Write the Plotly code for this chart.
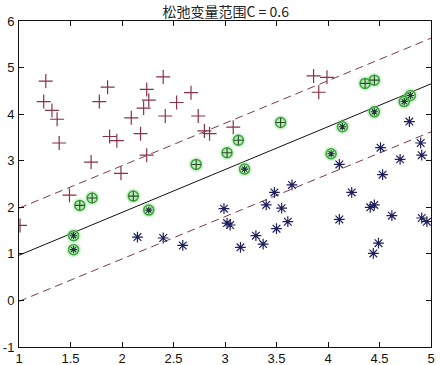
import plotly.graph_objects as go

title_text = "松弛变量范围C = 0.6"

# class +1 (red plus)
red_x = [1.01, 1.26, 1.24, 1.32, 1.37, 1.39, 1.49, 1.70, 1.78, 1.86, 1.88, 1.95, 1.99, 2.09,
         2.18, 2.21, 2.24, 2.26, 2.24, 2.40, 2.53, 2.42, 2.67, 2.74, 2.80, 2.85, 3.08, 3.86, 3.99, 3.91]
red_y = [1.61, 4.71, 4.27, 4.08, 3.89, 3.38, 2.26, 2.97, 4.27, 4.58, 3.52, 3.43, 2.73, 3.92,
         3.58, 4.13, 4.53, 4.30, 3.12, 4.80, 4.25, 3.96, 4.46, 3.96, 3.64, 3.58, 3.72, 4.82, 4.79, 4.47]

# class -1 (blue asterisk)
blue_x = [2.15, 2.40, 2.59, 2.99, 3.02, 3.05, 3.15, 3.30, 3.37, 3.40, 3.48, 3.50, 3.55, 3.61, 3.65,
          4.11, 4.11, 4.23, 4.41, 4.45, 4.44, 4.49, 4.51, 4.53, 4.62, 4.70, 4.79, 4.90, 4.91, 4.91, 4.96]
blue_y = [1.36, 1.34, 1.18, 1.97, 1.66, 1.62, 1.14, 1.39, 1.21, 2.05, 2.32, 1.54, 1.98, 1.69, 2.48,
          2.92, 1.74, 2.32, 2.00, 2.05, 1.01, 1.23, 3.28, 2.70, 1.82, 3.03, 3.84, 3.38, 3.12, 1.77, 1.69]

# support vectors
sv_pos_x = [1.59, 1.71, 2.11, 2.72, 3.02, 3.13, 3.54, 4.36, 4.45]
sv_pos_y = [2.04, 2.20, 2.24, 2.92, 3.17, 3.44, 3.82, 4.66, 4.73]
sv_neg_x = [1.53, 1.53, 2.26, 3.19, 4.03, 4.14, 4.45, 4.74, 4.80]
sv_neg_y = [1.39, 1.09, 1.94, 2.82, 3.15, 3.73, 4.05, 4.27, 4.40]

# decision boundary and margins
line_x = [1, 5]
boundary_y = [0.97, 4.65]
upper_y = [1.98, 5.63]
lower_y = [-0.02, 3.62]

x_ticks = [1, 1.5, 2, 2.5, 3, 3.5, 4, 4.5, 5]
x_tick_labels = ["1", "1.5", "2", "2.5", "3", "3.5", "4", "4.5", "5"]
y_ticks = [-1, 0, 1, 2, 3, 4, 5, 6]
y_tick_labels = ["-1", "0", "1", "2", "3", "4", "5", "6"]

fig = go.Figure()

dash_color = "#7a3a48"
fig.add_trace(go.Scatter(x=line_x, y=upper_y, mode="lines",
                         line=dict(color=dash_color, width=1, dash="8px,5px")))
fig.add_trace(go.Scatter(x=line_x, y=lower_y, mode="lines",
                         line=dict(color=dash_color, width=1, dash="8px,5px")))
fig.add_trace(go.Scatter(x=line_x, y=boundary_y, mode="lines",
                         line=dict(color="#111111", width=1)))

sv_x = sv_pos_x + sv_neg_x
sv_y = sv_pos_y + sv_neg_y
# green halo
fig.add_trace(go.Scatter(x=sv_x, y=sv_y, mode="markers",
                         marker=dict(symbol="circle", size=15, color="rgba(130,215,130,0.30)",
                                     line=dict(width=0))))
fig.add_trace(go.Scatter(x=sv_x, y=sv_y, mode="markers",
                         marker=dict(symbol="circle", size=10, color="rgba(150,225,150,0.45)",
                                     line=dict(width=1.5, color="#3aa63a"))))

red_color = "#8a3346"
blue_color = "#1f1f5c"
fig.add_trace(go.Scatter(x=red_x, y=red_y, mode="markers",
                         marker=dict(symbol="cross-thin-open", size=10, color=red_color,
                                     line=dict(width=1.2, color=red_color))))
fig.add_trace(go.Scatter(x=blue_x, y=blue_y, mode="markers",
                         marker=dict(symbol="asterisk-open", size=9, color=blue_color,
                                     line=dict(width=1.2, color=blue_color))))
fig.add_trace(go.Scatter(x=sv_pos_x, y=sv_pos_y, mode="markers",
                         marker=dict(symbol="cross-thin-open", size=7, color="#2a4a2a",
                                     line=dict(width=1.1, color="#2a4a2a"))))
fig.add_trace(go.Scatter(x=sv_neg_x, y=sv_neg_y, mode="markers",
                         marker=dict(symbol="asterisk-open", size=6, color="#1f3a35",
                                     line=dict(width=1.1, color="#1f3a35"))))

axis_common = dict(showgrid=False, zeroline=False, showline=True, linecolor="#111111",
                   linewidth=1, mirror="ticks", ticks="inside", ticklen=5,
                   tickcolor="#111111", tickfont=dict(family="Liberation Sans, Arial", size=13,
                                                      color="#111111"))

fig.update_layout(
    width=440, height=365,
    margin=dict(l=19, r=9, t=21, b=18, autoexpand=False),
    paper_bgcolor="white", plot_bgcolor="white",
    showlegend=False,
    title=dict(text=title_text, x=0.513, xanchor="center", y=0.967, yanchor="middle",
               font=dict(family="Noto Sans CJK SC", size=14, color="#222222")),
    xaxis=dict(range=[1, 5], tickvals=x_ticks, ticktext=x_tick_labels, automargin=False,
               ticklabelstandoff=-1, **axis_common),
    yaxis=dict(range=[-1, 6], tickvals=y_ticks, ticktext=y_tick_labels, automargin=False,
               ticklabelstandoff=1, **axis_common),
)

fig.write_html("out.html", config={"displayModeBar": False},
               post_script="document.body.style.margin='0';")
